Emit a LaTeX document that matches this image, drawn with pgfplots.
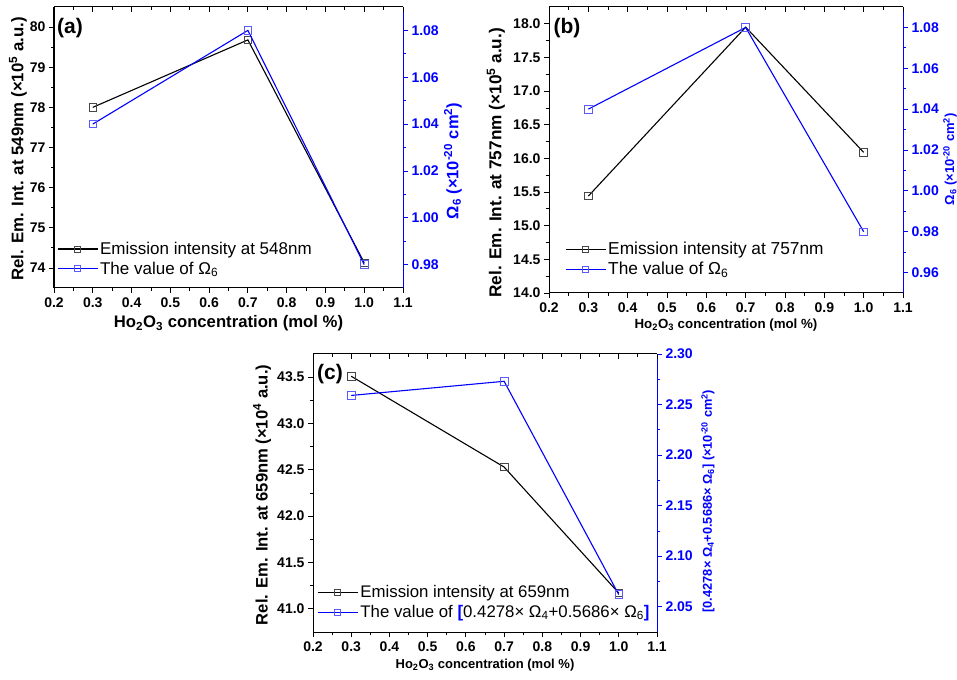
\documentclass[border=0pt]{standalone}
\usepackage{fontspec}
\setmainfont{Liberation Sans}
\usepackage{pgfplots}
\pgfplotsset{compat=1.18}
\definecolor{mblk}{RGB}{70,70,70}
\definecolor{mblu}{RGB}{90,90,255}

\pgfplotsset{
  panel/.style={scale only axis, anchor=south west, xmin=0.2, xmax=1.1,
    scaled ticks=false, tick align=outside,
    major tick length=5pt, minor tick length=3pt,
    minor x tick num=1, minor y tick num=1,
    every tick label/.append style={font=\bfseries\fontsize{14}{14}\selectfont},
    /pgf/number format/assume math mode=true,
    axis line style={line width=1pt}, clip=false},
  leftside/.style={panel, axis y line*=left, axis x line*=bottom,
    xtick={0.2,0.3,0.4,0.5,0.6,0.7,0.8,0.9,1.0,1.1},
    x tick label style={yshift=-1.5pt, /pgf/number format/.cd, fixed, fixed zerofill, precision=1},
    tick style={black, line width=0.8pt}},
  rightside/.style={panel, axis y line*=right, axis x line=none,
    axis line style={blue}, tick style={blue, line width=0.8pt},
    y tick label style={blue, /pgf/number format/.cd, fixed, fixed zerofill, precision=2}},
  topside/.style={panel, axis x line*=top, axis y line=none, tick align=inside,
    xtick={0.2,0.3,0.4,0.5,0.6,0.7,0.8,0.9,1.0,1.1}, xticklabels={},
    ymin=0, ymax=1, tick style={black, line width=0.8pt}},
  blk/.style={black, line width=1.1pt, mark=square, mark size=3.8pt,
    mark options={draw=mblk, fill=white, line width=0.8pt}},
  blu/.style={blue, line width=1.1pt, mark=square, mark size=3.8pt,
    mark options={draw=mblu, fill=white, line width=0.8pt}},
  leg/.style={legend style={draw=none, fill=none, anchor=north west, inner sep=0pt,
      font=\fontsize{#1}{#1}\selectfont, cells={anchor=west}, row sep=2pt},
    legend image code/.code={
      \draw[##1, mark=none] (0pt,0pt) -- (40pt,0pt);
      \draw[##1, mark size=3pt, only marks] plot coordinates {(20pt,0pt)};}},
}

\begin{document}
\begin{tikzpicture}
\useasboundingbox (0,0) rectangle (957pt,679pt);

% ---------- (a) ----------
\begin{axis}[leftside, at={(54pt,391pt)}, width=349pt, height=281pt,
  ymin=73.5, ymax=80.5, ytick={74,75,76,77,78,79,80},
  xlabel={Ho\textsubscript{2}O\textsubscript{3} concentration (mol \%)},
  ylabel={Rel. Em. Int. at 549nm (×10\textsuperscript{5} a.u.)},
  every axis x label/.style={at={(axis description cs:0.5,-0.125)}, anchor=center,
    font=\bfseries\fontsize{16.7}{16.7}\selectfont},
  every axis y label/.style={at={(axis description cs:-0.103,0.495)}, rotate=90, anchor=center,
    font=\bfseries\fontsize{16.8}{16.8}\selectfont}]
\addplot[blk] coordinates {(0.3,78.0)(0.7,79.68)(1.0,74.13)};
\end{axis}
\begin{axis}[rightside, at={(54pt,391pt)}, width=349pt, height=281pt,
  ymin=0.97, ymax=1.09, ytick={0.98,1.00,1.02,1.04,1.06,1.08},
  ylabel={Ω\textsubscript{6} (×10\textsuperscript{-20} cm\textsuperscript{2})},
  every axis y label/.style={at={(axis description cs:1.143,0.452)}, rotate=90, anchor=center,
    blue, font=\bfseries\fontsize{16.5}{16.5}\selectfont},
  leg=17, legend style={at={(axis description cs:0.008,0.171)}}]
\addlegendimage{blk}
\addlegendentry{Emission intensity at 548nm}
\addplot[blu] coordinates {(0.3,1.04)(0.7,1.08)(1.0,0.98)};
\addlegendentry{The value of Ω\textsubscript{6}}
\end{axis}
\begin{axis}[topside, at={(54pt,391pt)}, width=349pt, height=281pt]
\end{axis}
\node[font=\bfseries\fontsize{21}{21}\selectfont] at (70pt,651pt) {(a)};

% ---------- (b) ----------
\begin{axis}[leftside, at={(549pt,386pt)}, width=354pt, height=286pt,
  ymin=14, ymax=18.25, ytick={14.0,14.5,15.0,15.5,16.0,16.5,17.0,17.5,18.0},
  y tick label style={/pgf/number format/.cd, fixed, fixed zerofill, precision=1},
  xlabel={Ho\textsubscript{2}O\textsubscript{3} concentration (mol \%)},
  ylabel={Rel. Em. Int. at 757nm (×10\textsuperscript{5} a.u.)},
  every axis x label/.style={at={(axis description cs:0.5,-0.112)}, anchor=center,
    font=\bfseries\fontsize{13.3}{13.3}\selectfont},
  every axis y label/.style={at={(axis description cs:-0.150,0.455)}, rotate=90, anchor=center,
    font=\bfseries\fontsize{17.2}{17.2}\selectfont}]
\addplot[blk] coordinates {(0.3,15.44)(0.7,17.95)(1.0,16.09)};
\end{axis}
\begin{axis}[rightside, at={(549pt,386pt)}, width=354pt, height=286pt,
  ymin=0.95, ymax=1.09, ytick={0.96,0.98,1.00,1.02,1.04,1.06,1.08},
  ylabel={Ω\textsubscript{6} (×10\textsuperscript{-20} cm\textsuperscript{2})},
  every axis y label/.style={at={(axis description cs:1.133,0.468)}, rotate=90, anchor=center,
    blue, font=\bfseries\fontsize{13}{13}\selectfont},
  leg=17.3, legend style={at={(axis description cs:0.045,0.185)}}]
\addlegendimage{blk}
\addlegendentry{Emission intensity at 757nm}
\addplot[blu] coordinates {(0.3,1.04)(0.7,1.08)(1.0,0.98)};
\addlegendentry{The value of Ω\textsubscript{6}}
\end{axis}
\begin{axis}[topside, at={(549pt,386pt)}, width=354pt, height=286pt]
\end{axis}
\node[font=\bfseries\fontsize{21}{21}\selectfont] at (567pt,651pt) {(b)};

% ---------- (c) ----------
\begin{axis}[leftside, at={(313pt,47pt)}, width=344pt, height=278pt,
  ymin=40.75, ymax=43.75, ytick={41.0,41.5,42.0,42.5,43.0,43.5},
  y tick label style={/pgf/number format/.cd, fixed, fixed zerofill, precision=1},
  xlabel={Ho\textsubscript{2}O\textsubscript{3} concentration (mol \%)},
  ylabel={Rel. Em. Int. at 659nm (×10\textsuperscript{4} a.u.)},
  every axis x label/.style={at={(axis description cs:0.5,-0.119)}, anchor=center,
    font=\bfseries\fontsize{13}{13}\selectfont},
  every axis y label/.style={at={(axis description cs:-0.148,0.493)}, rotate=90, anchor=center,
    font=\bfseries\fontsize{16.6}{16.6}\selectfont}]
\addplot[blk] coordinates {(0.3,43.51)(0.7,42.53)(1.0,41.17)};
\end{axis}
\begin{axis}[rightside, at={(313pt,47pt)}, width=344pt, height=278pt,
  ymin=2.025, ymax=2.30, ytick={2.05,2.10,2.15,2.20,2.25,2.30},
  ylabel={[0.4278× Ω\textsubscript{4}+0.5686× Ω\textsubscript{6}] (×10\textsuperscript{-20} cm\textsuperscript{2})},
  every axis y label/.style={at={(axis description cs:1.148,0.471)}, rotate=90, anchor=center,
    blue, font=\bfseries\fontsize{12.8}{12.8}\selectfont},
  leg=16.8, legend style={at={(axis description cs:0.012,0.175)}}]
\addlegendimage{blk}
\addlegendentry{Emission intensity at 659nm}
\addplot[blu] coordinates {(0.3,2.259)(0.7,2.273)(1.0,2.062)};
\addlegendentry{The value of {\color{blue}\bfseries[}0.4278× Ω\textsubscript{4}+0.5686× Ω\textsubscript{6}{\color{blue}\bfseries]}}
\end{axis}
\begin{axis}[topside, at={(313pt,47pt)}, width=344pt, height=278pt]
\end{axis}
\node[font=\bfseries\fontsize{21}{21}\selectfont] at (330pt,305pt) {(c)};
\end{tikzpicture}
\end{document}
